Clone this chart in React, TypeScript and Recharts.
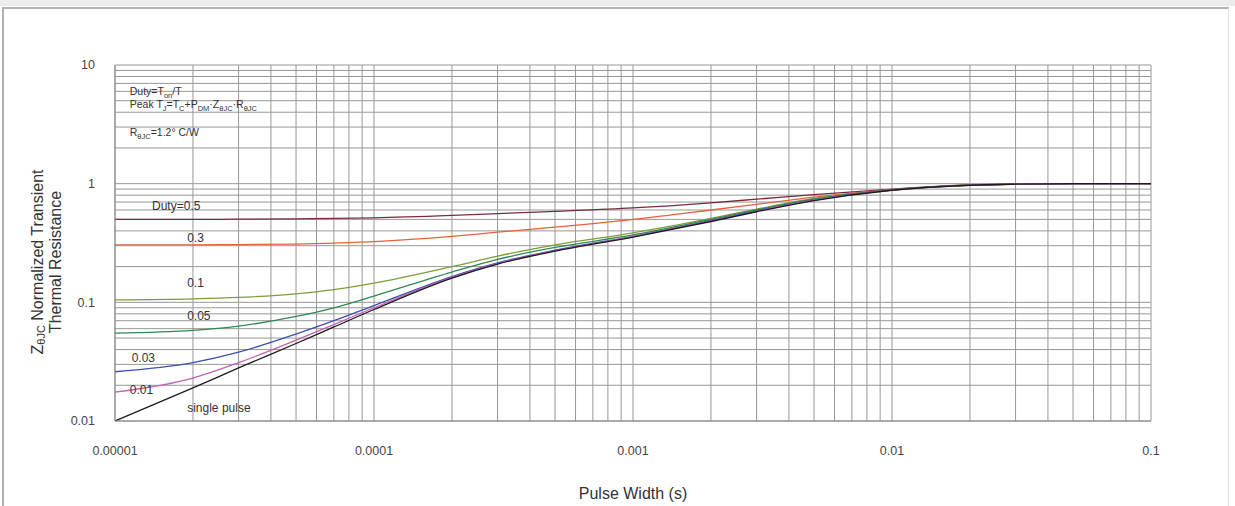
import React from 'react';
import { LineChart, Line, XAxis, YAxis, CartesianGrid, ReferenceDot } from 'recharts';

// pulse width (s) sample points
const PULSE_WIDTH = [1e-5, 2e-5, 3e-5, 5e-5, 7e-5, 1e-4, 2e-4, 3e-4, 5e-4, 1e-3, 2e-3, 3e-3, 5e-3, 1e-2, 2e-2, 3e-2, 5e-2, 1e-1];

// normalized transient thermal resistance per duty cycle
const DUTY_05 = [0.5, 0.5, 0.502, 0.505, 0.51, 0.515, 0.54, 0.56, 0.585, 0.625, 0.69, 0.74, 0.81, 0.9, 0.976, 0.992, 1.0, 1.0];
const DUTY_03 = [0.305, 0.305, 0.307, 0.31, 0.315, 0.325, 0.36, 0.39, 0.43, 0.5, 0.6, 0.67, 0.77, 0.89, 0.975, 0.99, 1.0, 1.0];
const DUTY_01 = [0.105, 0.107, 0.11, 0.118, 0.128, 0.145, 0.2, 0.245, 0.305, 0.385, 0.51, 0.61, 0.75, 0.888, 0.974, 0.99, 1.0, 1.0];
const DUTY_005 = [0.055, 0.058, 0.063, 0.076, 0.09, 0.113, 0.18, 0.23, 0.29, 0.37, 0.5, 0.6, 0.74, 0.886, 0.972, 0.99, 1.0, 1.0];
const DUTY_003 = [0.026, 0.031, 0.038, 0.054, 0.07, 0.094, 0.165, 0.215, 0.275, 0.36, 0.49, 0.59, 0.73, 0.884, 0.972, 0.99, 1.0, 1.0];
const DUTY_001 = [0.0175, 0.023, 0.031, 0.048, 0.065, 0.09, 0.162, 0.212, 0.272, 0.357, 0.485, 0.585, 0.725, 0.882, 0.97, 0.99, 1.0, 1.0];
const SINGLE = [0.01, 0.019, 0.028, 0.045, 0.062, 0.087, 0.16, 0.21, 0.27, 0.355, 0.48, 0.58, 0.72, 0.88, 0.97, 0.99, 1.0, 1.0];

// decade ticks and their labels
const X_MAJOR = [0.00001, 0.0001, 0.001, 0.01, 0.1];
const X_LABELS = ['0.00001', '0.0001', '0.001', '0.01', '0.1'];
const Y_MAJOR = [0.01, 0.1, 1, 10];
const Y_LABELS = ['0.01', '0.1', '1', '10'];

const SERIES = [
  { key: 'd05', values: DUTY_05, color: '#7a2a3c' },
  { key: 'd03', values: DUTY_03, color: '#e2623c' },
  { key: 'd01', values: DUTY_01, color: '#7f9c3a' },
  { key: 'd005', values: DUTY_005, color: '#2f8a52' },
  { key: 'd003', values: DUTY_003, color: '#3c4fb2' },
  { key: 'd001', values: DUTY_001, color: '#c45fb3' },
  { key: 'single', values: SINGLE, color: '#1c1c1c' },
];

// curve label text and where it sits, in data units
const CURVE_LABELS = [
  { text: 'Duty=0.5', x: 1.39e-5, y: 0.65 },
  { text: '0.3', x: 1.9e-5, y: 0.35 },
  { text: '0.1', x: 1.9e-5, y: 0.146 },
  { text: '0.05', x: 1.9e-5, y: 0.077 },
  { text: '0.03', x: 1.16e-5, y: 0.034 },
  { text: '0.01', x: 1.14e-5, y: 0.0183 },
  { text: 'single pulse', x: 1.9e-5, y: 0.0129 },
];

const FONT = '"Liberation Sans", Arial, sans-serif';

// every 1..9 step inside each decade, for the log grid
const withMinors = (majors: number[]) => {
  const out: number[] = [];
  majors.forEach((m, i) => {
    out.push(m);
    if (i < majors.length - 1) for (let k = 2; k <= 9; k++) out.push(m * k);
  });
  return out;
};

const X_TICKS = withMinors(X_MAJOR);
const Y_TICKS = withMinors(Y_MAJOR);

const data = PULSE_WIDTH.map((t, i) => {
  const row: Record<string, number> = { t };
  SERIES.forEach(s => (row[s.key] = s.values[i]));
  return row;
});

const XTick = ({ x, y, payload }: any) => {
  const i = X_MAJOR.indexOf(payload.value);
  if (i < 0) return <g />;
  return (
    <text x={x} y={y + 17} dy="0.71em" textAnchor="middle" fill="#444" fontFamily={FONT} fontSize={12.5}>
      {X_LABELS[i]}
    </text>
  );
};

const YTick = ({ x, y, payload }: any) => {
  const i = Y_MAJOR.indexOf(payload.value);
  if (i < 0) return <g />;
  return (
    <text x={x - 12} y={y} dy="0.355em" textAnchor="end" fill="#444" fontFamily={FONT} fontSize={12.5}>
      {Y_LABELS[i]}
    </text>
  );
};

const YTitle = ({ viewBox }: any) => {
  const cy = 262;
  const x1 = viewBox.x + 22;
  const x2 = viewBox.x + 40;
  return (
    <g fill="#333" fontFamily={FONT} fontSize={16}>
      <text x={x1} y={cy} textAnchor="middle" dominantBaseline="central" transform={`rotate(-90, ${x1}, ${cy})`}>
        Z<tspan dy={4} fontSize={11}>θJC</tspan><tspan dy={-4}> Normalized Transient</tspan>
      </text>
      <text x={x2} y={cy} textAnchor="middle" dominantBaseline="central" transform={`rotate(-90, ${x2}, ${cy})`}>
        Thermal Resistance
      </text>
    </g>
  );
};

const XTitle = ({ viewBox }: any) => (
  <text x={viewBox.x + viewBox.width / 2} y={viewBox.y + 78} textAnchor="middle" fill="#333" fontFamily={FONT} fontSize={16}>
    Pulse Width (s)
  </text>
);

const Notes = ({ viewBox }: any) => {
  const x = viewBox.x;
  const y = viewBox.y;
  const s = 7.5;
  return (
    <g fill="#333" fontFamily={FONT} fontSize={10.5}>
      <text x={x} y={y}>
        Duty=T<tspan dy={3} fontSize={s}>on</tspan><tspan dy={-3}>/T</tspan>
      </text>
      <text x={x} y={y + 13}>
        Peak T<tspan dy={3} fontSize={s}>J</tspan><tspan dy={-3}>=T</tspan>
        <tspan dy={3} fontSize={s}>C</tspan><tspan dy={-3}>+P</tspan>
        <tspan dy={3} fontSize={s}>DM</tspan><tspan dy={-3}>·Z</tspan>
        <tspan dy={3} fontSize={s}>θJC</tspan><tspan dy={-3}>·R</tspan>
        <tspan dy={3} fontSize={s}>θJC</tspan>
      </text>
      <text x={x} y={y + 41}>
        R<tspan dy={3} fontSize={s}>θJC</tspan><tspan dy={-3}>=1.2° C/W</tspan>
      </text>
    </g>
  );
};

export default function App() {
  return (
    <div style={{ position: 'absolute', left: 0, top: 0, width: 1235, height: 506, background: '#fff', overflow: 'hidden' }}>
      {/* page frame around the figure */}
      <div style={{ position: 'absolute', left: 0, top: 0, width: 1235, height: 6, background: '#ececec' }} />
      <div style={{ position: 'absolute', left: 2, top: 7, width: 1224, height: 520, borderTop: '2px solid #b4b4b4', borderLeft: '2px solid #b0b0b0', borderRight: '1px solid #e0e0e0' }} />
      <LineChart width={1235} height={506} data={data} margin={{ top: 65, right: 84, bottom: 55, left: 15 }}>
        <CartesianGrid stroke="#979797" strokeWidth={1} />
        <XAxis
          dataKey="t"
          type="number"
          scale="log"
          domain={[X_MAJOR[0], X_MAJOR[X_MAJOR.length - 1]]}
          ticks={X_TICKS}
          interval={0}
          allowDataOverflow
          height={30}
          tickLine={false}
          axisLine={{ stroke: '#8a8a8a' }}
          tick={XTick}
          label={{ content: XTitle }}
        />
        <YAxis
          type="number"
          scale="log"
          domain={[Y_MAJOR[0], Y_MAJOR[Y_MAJOR.length - 1]]}
          ticks={Y_TICKS}
          interval={0}
          allowDataOverflow
          width={100}
          tickLine={false}
          axisLine={{ stroke: '#8a8a8a' }}
          tick={YTick}
          label={{ content: YTitle }}
        />
        {SERIES.map(s => (
          <Line
            key={s.key}
            dataKey={s.key}
            type="monotone"
            stroke={s.color}
            strokeWidth={1.3}
            dot={false}
            isAnimationActive={false}
          />
        ))}
        {CURVE_LABELS.map(l => (
          <ReferenceDot
            key={l.text}
            x={l.x}
            y={l.y}
            r={0}
            stroke="none"
            fill="none"
            label={{
              content: ({ viewBox }: any) => (
                <text x={viewBox.x} y={viewBox.y} dominantBaseline="central" fill="#333" fontFamily={FONT} fontSize={12}>
                  {l.text}
                </text>
              ),
            }}
          />
        ))}
        <ReferenceDot x={1.14e-5} y={5.6} r={0} stroke="none" fill="none" label={{ content: Notes }} />
      </LineChart>
    </div>
  );
}
